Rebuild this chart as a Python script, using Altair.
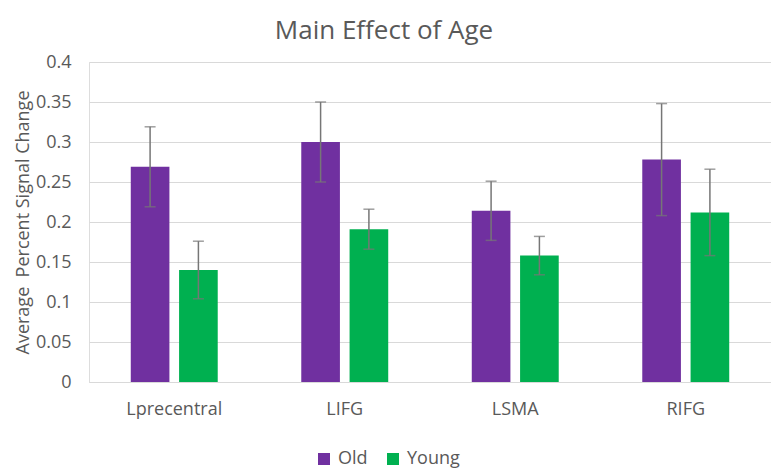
import altair as alt
import pandas as pd

regions = ["Lprecentral", "LIFG", "LSMA", "RIFG"]
groups = ["Old", "Young"]
old_vals = [0.269, 0.300, 0.214, 0.278]
old_err = [0.050, 0.050, 0.037, 0.070]
young_vals = [0.140, 0.191, 0.158, 0.212]
young_err = [0.036, 0.025, 0.024, 0.054]
y_ticks = [0, 0.05, 0.1, 0.15, 0.2, 0.25, 0.3, 0.35, 0.4]

rows = []
for i, r in enumerate(regions):
    rows.append({"region": r, "group": "Old", "value": old_vals[i],
                 "lo": old_vals[i] - old_err[i], "hi": old_vals[i] + old_err[i]})
    rows.append({"region": r, "group": "Young", "value": young_vals[i],
                 "lo": young_vals[i] - young_err[i], "hi": young_vals[i] + young_err[i]})
df = pd.DataFrame(rows)

FONT = "Open Sans"
GREY = "#595959"

x = alt.X("region:N", sort=regions, title=None,
          scale=alt.Scale(paddingInner=0.49, paddingOuter=0.245),
          axis=alt.Axis(labelAngle=0, labelFont=FONT, labelFontSize=18, labelColor=GREY,
                        ticks=False, domainColor="#d9d9d9", domainWidth=1, labelPadding=18))
xo = alt.XOffset("group:N", sort=groups, scale=alt.Scale(paddingInner=0.2, paddingOuter=0))
yaxis = alt.Axis(values=y_ticks, labelOverlap=False,
                 format="~g", labelFont=FONT, labelFontSize=18, labelColor=GREY,
                 ticks=False, domain=False, labelPadding=18,
                 gridColor="#d9d9d9", gridWidth=1,
                 titleFont=FONT, titleFontSize=18, titleColor=GREY,
                 titleFontWeight="normal", titlePadding=3)
yscale = alt.Scale(domain=[0, 0.4], nice=False)
ytitle = "Average\u00a0 Percent Signal Change"

color = alt.Color("group:N", sort=groups,
                  scale=alt.Scale(domain=groups, range=["#7030A0", "#00B050"]),
                  legend=alt.Legend(title=None, orient="none", direction="horizontal",
                                    legendX=226, legendY=388, symbolType="square",
                                    symbolSize=144, symbolStrokeWidth=0,
                                    labelFont=FONT, labelFontSize=18, labelColor=GREY,
                                    columnPadding=16, labelOffset=5, padding=0))

bars = alt.Chart(df).mark_bar().encode(
    x=x, xOffset=xo,
    y=alt.Y("value:Q", title=ytitle, scale=yscale, axis=yaxis),
    color=color)

rules = alt.Chart(df).mark_rule(color="#767676", strokeWidth=1.5).encode(
    x=x, xOffset=xo, y=alt.Y("lo:Q", title=ytitle, scale=yscale, axis=yaxis), y2="hi:Q")
caps_hi = alt.Chart(df).mark_tick(color="#767676", thickness=1.5, size=11).encode(
    x=x, xOffset=xo, y=alt.Y("hi:Q", title=ytitle, scale=yscale, axis=yaxis))
caps_lo = alt.Chart(df).mark_tick(color="#767676", thickness=1.5, size=11).encode(
    x=x, xOffset=xo, y=alt.Y("lo:Q", title=ytitle, scale=yscale, axis=yaxis))

chart = alt.layer(bars, rules, caps_hi, caps_lo).properties(
    width=682, height=320,
    title=alt.TitleParams("Main Effect of Age", font=FONT, fontSize=26, color=GREY,
                          fontWeight="normal", anchor="middle", dx=-46, offset=9),
    autosize=alt.AutoSizeParams(type="none"),
    padding={"left": 81, "top": 54, "right": 0, "bottom": 86},
).configure_view(stroke=None).configure(background="white")

chart.save("out.html", embed_options={"renderer": "svg", "actions": False})
